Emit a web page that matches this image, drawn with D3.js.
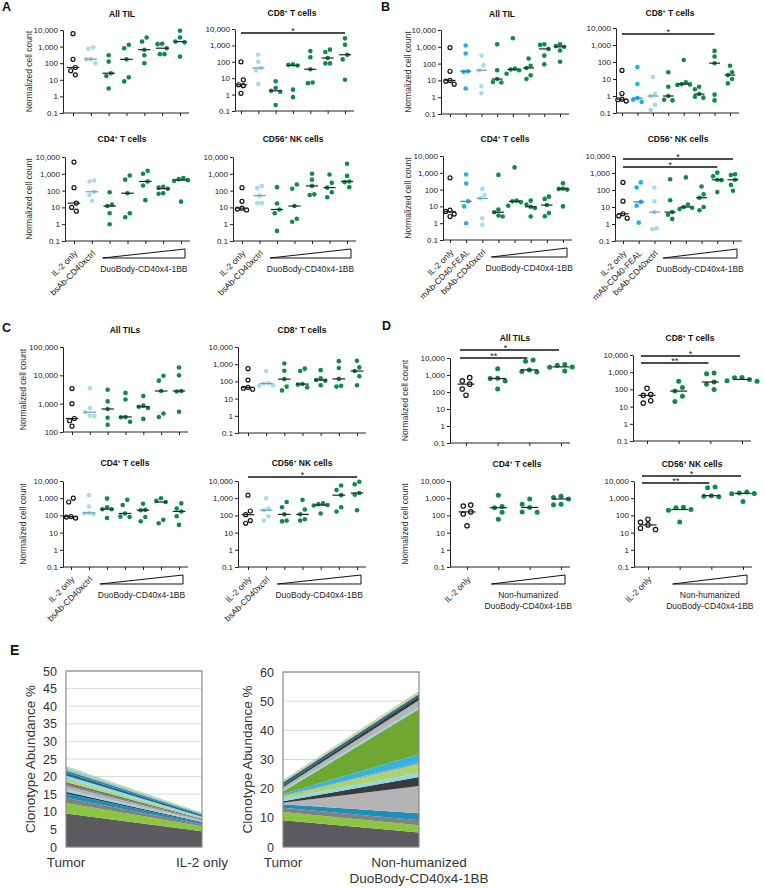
<!DOCTYPE html>
<html><head><meta charset="utf-8">
<script src="https://cdn.jsdelivr.net/npm/d3@7"></script>
<style>body{margin:0;background:#fff}svg{display:block;font-family:"Liberation Sans",Arial,sans-serif}</style>
</head><body><svg id="c" width="765" height="888"></svg>
<script>
// ---------------- DATA ----------------
const A_all  = [[6000,170,55,35,20],[900,750,175,170,100],[300,125,25,17,3],[1300,800,170,14,8],[3500,2000,650,300,100],[1500,1400,800,350,350],[9000,3500,2000,1800,250]];
const A_cd8  = [[100,8,4,3.5,1.2],[270,100,42,30,4.5],[6.5,2.5,1.7,1.5,0.23],[70,65,60,2,0.7],[450,190,35,5.5,5],[550,400,170,80,80],[2700,1100,270,140,8]];
const A_cd4  = [[5000,150,18,10,6],[400,350,85,55,25],[80,15,12,4.5,1],[800,450,70,4.5,2.6],[1500,1000,350,200,27],[170,150,130,70,65],[550,480,420,380,22]];
const A_cd56 = [[150,23,9,8,7],[190,140,50,18,18],[160,17,7.5,4.5,0.4],[230,130,12,2.1,1.4],[1000,450,190,60,55],[900,290,150,80,40],[4000,750,350,320,160]];

const B_all  = [[900,35,10,9,6],[1200,400,35,33,3.3],[300,80,40,4.5,1.7],[1400,40,12,8,7.5],[3200,50,45,40,25],[200,75,55,20,12],[1400,1300,750,300,90],[1400,1100,1000,600,130]];
const B_cd8  = [[32,1.4,0.65,0.6,0.5],[50,5,0.75,0.6,0.45],[13,1.3,1.0,0.3,0.15],[25,3.5,1,0.6,0.55],[130,6.5,5,4.8,4.5],[3.5,2.5,1.3,0.9,0.8],[450,210,85,1.2,0.55],[60,25,17,10,5.5]];
const B_cd4  = [[500,6,5,3.5,2.5],[800,230,20,10,1],[110,47,30,2,0.8],[750,6.5,4.5,2.9,2.5],[2100,22,20,18,11],[22,13,9.5,8,2.5],[38,28,12,4,2.6],[240,115,110,100,10]];
const B_cd56 = [[280,22,4,3,2.2],[280,140,20,12,1.2],[140,22,5,0.55,0.5],[430,25,5,3.5,2],[550,14,10,9,7.5],[160,55,35,10,6.5],[1050,650,400,380,75],[850,750,400,200,90]];

const C_all  = [[3400,1000,300,250,160],[3500,700,500,380,370],[3100,1200,650,320,180],[2400,1400,340,330,230],[1850,850,780,700,290],[9700,6500,2800,450,340],[19000,10000,2800,2700,520]];
const C_cd8  = [[550,120,45,40,35],[400,80,75,60,55],[1100,420,135,50,30],[550,400,70,65,45],[450,150,120,110,60],[1500,600,140,55,50],[1600,650,400,200,60]];
const C_cd4  = [[1000,600,85,80,70],[1500,330,140,130,120],[950,300,230,230,70],[800,400,130,85,80],[480,210,200,80,45],[1000,700,600,55,35],[500,250,170,90,28]];
const C_cd56 = [[1500,180,110,50,35],[1000,250,200,90,50],[600,300,115,50,45],[800,220,115,60,50],[500,450,400,380,130],[5500,3000,1500,300,170],[9000,6500,2000,1600,200]];

const D_all  = [[700,450,290,150,65],[2300,650,620,450,150],[7500,6500,2000,1600,1500],[4200,3800,3000,2900,1700]];
const D_cd8  = [[115,50,45,22,16],[300,130,80,40,20],[900,800,270,200,100],[500,480,380,320,300]];
const D_cd4  = [[400,350,160,120,25],[1500,330,280,150,60],[900,450,290,160,150],[1300,1100,900,450,420]];
const D_cd56 = [[60,40,28,18,15],[300,280,220,200,42],[4500,4000,1400,1300,1200],[2300,2000,1900,1800,650]];

const ticksStd = [0.1, 1, 10, 100, 1000, 10000];
const ticksC   = [100, 1000, 10000, 100000];
const catsAC = ["IL-2 only", "bsAb-CD40xctrl"];
const catsB  = ["IL-2 only", "mAb-CD40-FEAL", "bsAb-CD40xctrl"];
const catsD  = ["IL-2 only"];
const wedgeText  = ["DuoBody-CD40x4-1BB"];
const wedgeTextD = ["Non-humanized", "DuoBody-CD40x4-1BB"];
const titlesA = ["All TIL", "CD8+ T cells", "CD4+ T cells", "CD56+ NK cells"];
const titlesC = ["All TILs", "CD8+ T cells", "CD4+ T cells", "CD56+ NK cells"];

// Clonotype stacked areas (bottom to top), values at [Tumor, treatment]
const E1_tumor = [9.5,3.0,1.5,1.2,0.5,0.6,1.0,0.5,0.7,1.0,0.8,0.8,0.6,0.6,0.4,0.3];
const E1_il2   = [4.5,1.4,0.5,0.5,0.2,0.2,0.3,0.2,0.2,0.3,0.3,0.4,0.3,0.2,0.1,0.1];
const E2_tumor = [9.2,2.8,1.5,1.2,0.5,0.5,0.9,0.8,0.3,0.5,0.8,0.5,1.0,0.6,1.0,0.6,0.3];
const E2_nh    = [5.0,2.5,1.7,2.4,9.3,3.1,1.3,3.1,0.4,3.0,15.5,0.7,2.3,1.4,0.8,0.4,0.6];
const E_x1 = ["Tumor", "IL-2 only"];
const E_x2 = ["Tumor", ["Non-humanized", "DuoBody-CD40x4-1BB"]];

// ---------------- STYLE ----------------
const COL = {open:"#ffffff", lb:"#a6dbef", blue:"#1fb2e8", g:"#0e8a4a"};
const MED = {open:"#222", lb:"#6b9fb3", blue:"#2a86ad", g:"#222"};
const kindsAC = ["open","lb","g","g","g","g","g"];
const kindsB  = ["open","blue","lb","g","g","g","g","g"];
const kindsD  = ["open","g","g","g"];
const E1_col = ["#5b5b5f","#8cc63e","#808184","#1b8fb5","#3b3b3d","#92d5ed","#b4b4b6","#808184","#6d6e71","#b0d77a","#92d5ed","#1e6b80","#1b8fb5","#b4b4b6","#92d5ed","#b8dc86"];
const E2_col = ["#5b5b5f","#8cc63e","#808184","#1b8fb5","#b4b4b6","#3b3b3d","#92d5ed","#a9d46f","#9a9a9c","#35b4e0","#6ea832","#92d5ed","#b4b4b6","#3b3b3d","#1e6b80","#c0c0c0","#b8dc86"];

const svg = d3.select("#c");
const FONT = '"Liberation Sans",Arial,sans-serif';

function titleText(g, x, y, t, size) {
  const tx = g.append("text").attr("x", x).attr("y", y).attr("text-anchor", "middle")
    .attr("font-size", size).attr("font-weight", "bold").attr("fill", "#111");
  const parts = t.split("+");
  if (parts.length === 1) { tx.text(t); return; }
  tx.append("tspan").text(parts[0]);
  tx.append("tspan").attr("dy", -3.5).attr("font-size", size * 0.62).text("+");
  tx.append("tspan").attr("dy", 3.5).text(parts[1]);
}

function swarm(vals, y, s, dmin) {
  const pts = vals.map(v => ({v, y: y(v), dx: 0})).sort((a, b) => a.y - b.y);
  const placed = [];
  for (const p of pts) {
    for (let k = 0; k < 30; k++) {
      const off = k === 0 ? 0 : (k % 2 ? -Math.ceil(k / 2) : Math.ceil(k / 2)) * s;
      if (placed.every(q => !(Math.abs(q.y - p.y) < dmin && Math.abs(q.dx - off) < s * 0.9))) { p.dx = off; break; }
    }
    placed.push(p);
  }
  let comp = [pts[0]];
  const comps = [];
  for (let i = 1; i < pts.length; i++) {
    if (pts[i].y - pts[i - 1].y < dmin) comp.push(pts[i]);
    else { comps.push(comp); comp = [pts[i]]; }
  }
  comps.push(comp);
  comps.forEach(c => {
    const mn = d3.min(c, d => d.dx), mx = d3.max(c, d => d.dx);
    const sh = -(mn + mx) / 2;
    c.forEach(d => d.dx += sh);
  });
  return pts;
}

function dotPanel(c) {
  const n = c.data.length;
  const x = d3.scalePoint().domain(d3.range(n)).range(c.cols);
  const y = d3.scaleLog().domain(c.domain || [0.1, 10000]).range([c.yr[1], c.yr[0]]);
  const g = svg.append("g");
  const ya = d3.axisLeft(y).tickValues(c.ticks || ticksStd).tickFormat(d3.format(",")).tickSize(3).tickSizeOuter(0).tickPadding(2);
  const yg = g.append("g").attr("transform", `translate(${c.axisX},0)`).call(ya)
    .attr("font-family", FONT).attr("font-size", 8);
  yg.select(".domain").attr("stroke", "#222");
  yg.selectAll(".tick line").attr("stroke", "#222");
  yg.selectAll(".tick text").attr("fill", "#222");
  g.append("line").attr("x1", c.axisX).attr("x2", c.cols[1] + 9).attr("y1", c.yr[1]).attr("y2", c.yr[1]).attr("stroke", "#222");
  const xg = g.append("g").attr("transform", `translate(0,${c.yr[1]})`)
    .call(d3.axisBottom(x).tickSize(3).tickFormat("").tickSizeOuter(0));
  xg.select(".domain").remove();
  xg.selectAll(".tick line").attr("stroke", "#222");
  titleText(g, c.tx, c.ty, c.title, 8.5);
  if (c.ylab !== undefined) {
    g.append("text").attr("transform", `translate(${c.ylab},${(c.yr[0] + c.yr[1]) / 2}) rotate(-90)`)
      .attr("text-anchor", "middle").attr("font-size", 8.5).attr("fill", "#333").text("Normalized cell count");
  }
  const step = x.step();
  const mw = Math.min(17, step * 0.7);
  const r = c.r || 2.3;
  c.data.forEach((vals, i) => {
    const kind = c.kinds[i];
    const pts = swarm(vals, y, c.sp, 2 * r + 0.6);
    pts.forEach(p => {
      g.append("circle").attr("cx", x(i) + p.dx).attr("cy", p.y).attr("r", kind === "open" ? r - 0.3 : r)
        .attr("fill", COL[kind]).attr("stroke", kind === "open" ? "#111" : "none").attr("stroke-width", 1.2);
    });
    const m = y(d3.median(vals));
    g.append("line").attr("x1", x(i) - mw / 2).attr("x2", x(i) + mw / 2).attr("y1", m).attr("y2", m)
      .attr("stroke", MED[kind]).attr("stroke-width", 1.2);
  });
  (c.sig || []).forEach(s => {
    const x0 = x(s[0]) + (c.sigOff ? c.sigOff[0] : 0), x1 = x(s[1]) + (c.sigOff ? c.sigOff[1] : 0);
    g.append("line").attr("x1", x0).attr("x2", x1).attr("y1", s[2]).attr("y2", s[2]).attr("stroke", "#111").attr("stroke-width", 1.4);
    g.append("text").attr("x", (x0 + x1) / 2 + (s[4] || 0)).attr("y", s[2] + 1).attr("text-anchor", "middle").attr("font-size", 9).attr("fill", "#111").text(s[3]);
  });
  if (c.cats) {
    c.cats.forEach((t, i) => {
      g.append("text").attr("transform", `translate(${x(i) + 4},${c.yr[1] + 13}) rotate(-45)`)
        .attr("text-anchor", "end").attr("font-size", 8.5).attr("fill", "#222").text(t);
    });
    const first = c.cats.length;
    const wx0 = x(first) - 7, wx1 = x(n - 1) + 4, wb = c.yr[1] + 17;
    g.append("path").attr("d", `M${wx0},${wb}L${wx1},${wb - 9}L${wx1},${wb}Z`).attr("fill", "#fff").attr("stroke", "#111").attr("stroke-width", 1);
    c.wedge.forEach((t, k) => {
      g.append("text").attr("x", (wx0 + wx1) / 2).attr("y", wb + 14 + k * 11).attr("text-anchor", "middle")
        .attr("font-size", 8.5).attr("fill", "#222").text(t);
    });
  }
}

// ---- Panel A ----
dotPanel({data: A_all, kinds: kindsAC, axisX: 63, cols: [73, 180], yr: [30, 113], title: titlesA[0], tx: 122, ty: 17, ylab: 32, sp: 4.6});
dotPanel({data: A_cd8, kinds: kindsAC, axisX: 235, cols: [241, 345], yr: [29, 111], title: titlesA[1], tx: 292, ty: 16, sp: 4.6, sig: [[0, 6, 33, "*"]]});
dotPanel({data: A_cd4, kinds: kindsAC, axisX: 65, cols: [74, 181], yr: [157, 241], title: titlesA[2], tx: 122, ty: 142, ylab: 32, sp: 4.6, cats: catsAC, wedge: wedgeText});
dotPanel({data: A_cd56, kinds: kindsAC, axisX: 233, cols: [242, 347], yr: [157, 241], title: titlesA[3], tx: 293, ty: 142, sp: 4.6, cats: catsAC, wedge: wedgeText});
// ---- Panel B ----
dotPanel({data: B_all, kinds: kindsB, axisX: 441, cols: [450, 560], yr: [30, 114], title: titlesA[0], tx: 502, ty: 17, ylab: 411, sp: 4.2});
dotPanel({data: B_cd8, kinds: kindsB, axisX: 616, cols: [622, 730], yr: [28, 113], title: titlesA[1], tx: 670, ty: 16, sp: 4.2, sig: [[0, 6, 34, "*"]]});
dotPanel({data: B_cd4, kinds: kindsB, axisX: 443, cols: [450, 563], yr: [156, 240], title: titlesA[2], tx: 505, ty: 142, ylab: 411, sp: 4.2, cats: catsB, wedge: wedgeText});
dotPanel({data: B_cd56, kinds: kindsB, axisX: 615, cols: [623, 733], yr: [156, 241], title: titlesA[3], tx: 678, ty: 142, sp: 4.2, sig: [[0, 7, 159, "*"], [0, 6, 167, "*"]], cats: catsB, wedge: wedgeText});
// ---- Panel C ----
dotPanel({data: C_all, kinds: kindsAC, axisX: 63, cols: [72, 179], yr: [347, 432], domain: [100, 100000], ticks: ticksC, title: titlesC[0], tx: 125, ty: 333, ylab: 26, sp: 4.6});
dotPanel({data: C_cd8, kinds: kindsAC, axisX: 238, cols: [248, 357], yr: [347, 433], title: titlesC[1], tx: 302, ty: 333, sp: 4.6});
dotPanel({data: C_cd4, kinds: kindsAC, axisX: 63, cols: [71, 179], yr: [481, 567], title: titlesC[2], tx: 125, ty: 466, ylab: 26, sp: 4.6, cats: catsAC, wedge: wedgeText});
dotPanel({data: C_cd56, kinds: kindsAC, axisX: 238, cols: [248, 357], yr: [481, 567], title: titlesC[3], tx: 302, ty: 466, sp: 4.6, sig: [[0, 6, 477, "*"]], cats: catsAC, wedge: wedgeText});
// ---- Panel D ----
const dOff = [-6, -2];
dotPanel({data: D_all, kinds: kindsD, axisX: 450, cols: [466, 561], yr: [358, 443], title: titlesC[0], tx: 515, ty: 341, ylab: 408, sp: 7.5, r: 2.5, sig: [[0, 3, 350, "*", -4], [0, 2, 358, "**"]], sigOff: dOff});
dotPanel({data: D_cd8, kinds: kindsD, axisX: 633, cols: [647, 742], yr: [355, 441], title: titlesC[1], tx: 690, ty: 341, sp: 7.5, r: 2.5, sig: [[0, 3, 356, "*"], [0, 2, 363, "**"]], sigOff: dOff});
dotPanel({data: D_cd4, kinds: kindsD, axisX: 450, cols: [467, 561], yr: [481, 567], title: titlesC[2], tx: 517, ty: 467, ylab: 408, sp: 7.5, r: 2.5, cats: catsD, wedge: wedgeTextD});
dotPanel({data: D_cd56, kinds: kindsD, axisX: 634, cols: [648, 743], yr: [481, 567], title: titlesC[3], tx: 692, ty: 467, sp: 7.5, r: 2.5, sig: [[0, 3, 476, "*"], [0, 2, 483, "**"]], sigOff: dOff, cats: catsD, wedge: wedgeTextD});

// ---- Panel letters ----
[["A", 2, 11, 12.5], ["B", 381, 11, 12.5], ["C", 2, 332, 12.5], ["D", 382, 330, 12.5], ["E", 10, 655, 14]].forEach(l => {
  svg.append("text").attr("x", l[1]).attr("y", l[2]).attr("font-size", l[3]).attr("font-weight", "bold").attr("fill", "#111").text(l[0]);
});

// ---- Panel E ----
function areaChart(c) {
  const g = svg.append("g");
  const x = d3.scaleLinear().domain([0, 1]).range([c.x0, c.x1]);
  const y = d3.scaleLinear().domain([0, c.max]).range([c.y1, c.y0]);
  const ticks = d3.range(0, c.max + 0.001, c.step);
  g.selectAll(".gl").data(ticks).join("line").attr("x1", c.x0).attr("x2", c.x1)
    .attr("y1", d => y(d)).attr("y2", d => y(d)).attr("stroke", "#d9d9d9").attr("stroke-width", 1);
  const rows = [c.a, c.b].map(arr => Object.fromEntries(arr.map((v, i) => [i, v])));
  const keys = d3.range(c.a.length);
  const series = d3.stack().keys(keys)(rows);
  const area = d3.area().x((d, i) => x(i)).y0(d => y(d[0])).y1(d => y(d[1]));
  g.selectAll(".ar").data(series).join("path").attr("d", area).attr("fill", (d, i) => c.colors[i]);
  g.append("rect").attr("x", c.x0).attr("y", c.y0).attr("width", c.x1 - c.x0).attr("height", c.y1 - c.y0)
    .attr("fill", "none").attr("stroke", "#8a8a8a").attr("stroke-width", 1.2);
  const ya = d3.axisLeft(y).tickValues(ticks).tickSize(0).tickPadding(9).tickFormat(d3.format("d"));
  const yg = g.append("g").attr("transform", `translate(${c.x0},0)`).call(ya).attr("font-family", FONT).attr("font-size", 12.5);
  yg.select(".domain").remove();
  yg.selectAll("text").attr("fill", "#333");
  g.append("text").attr("transform", `translate(${c.ylab},${(c.y0 + c.y1) / 2}) rotate(-90)`)
    .attr("text-anchor", "middle").attr("font-size", 13.5).attr("fill", "#333").text("Clonotype Abundance %");
  c.xl.forEach((t, i) => {
    const lines = Array.isArray(t) ? t : [t];
    lines.forEach((s, k) => g.append("text").attr("x", x(i)).attr("y", 867 + k * 16).attr("text-anchor", "middle")
      .attr("font-size", 13.5).attr("fill", "#333").text(s));
  });
}
areaChart({x0: 66, x1: 202, y0: 671, y1: 847, max: 50, step: 5, a: E1_tumor, b: E1_il2, colors: E1_col, ylab: 35, xl: E_x1});
areaChart({x0: 283, x1: 419, y0: 672, y1: 847, max: 60, step: 10, a: E2_tumor, b: E2_nh, colors: E2_col, ylab: 252, xl: E_x2});
</script></body></html>
